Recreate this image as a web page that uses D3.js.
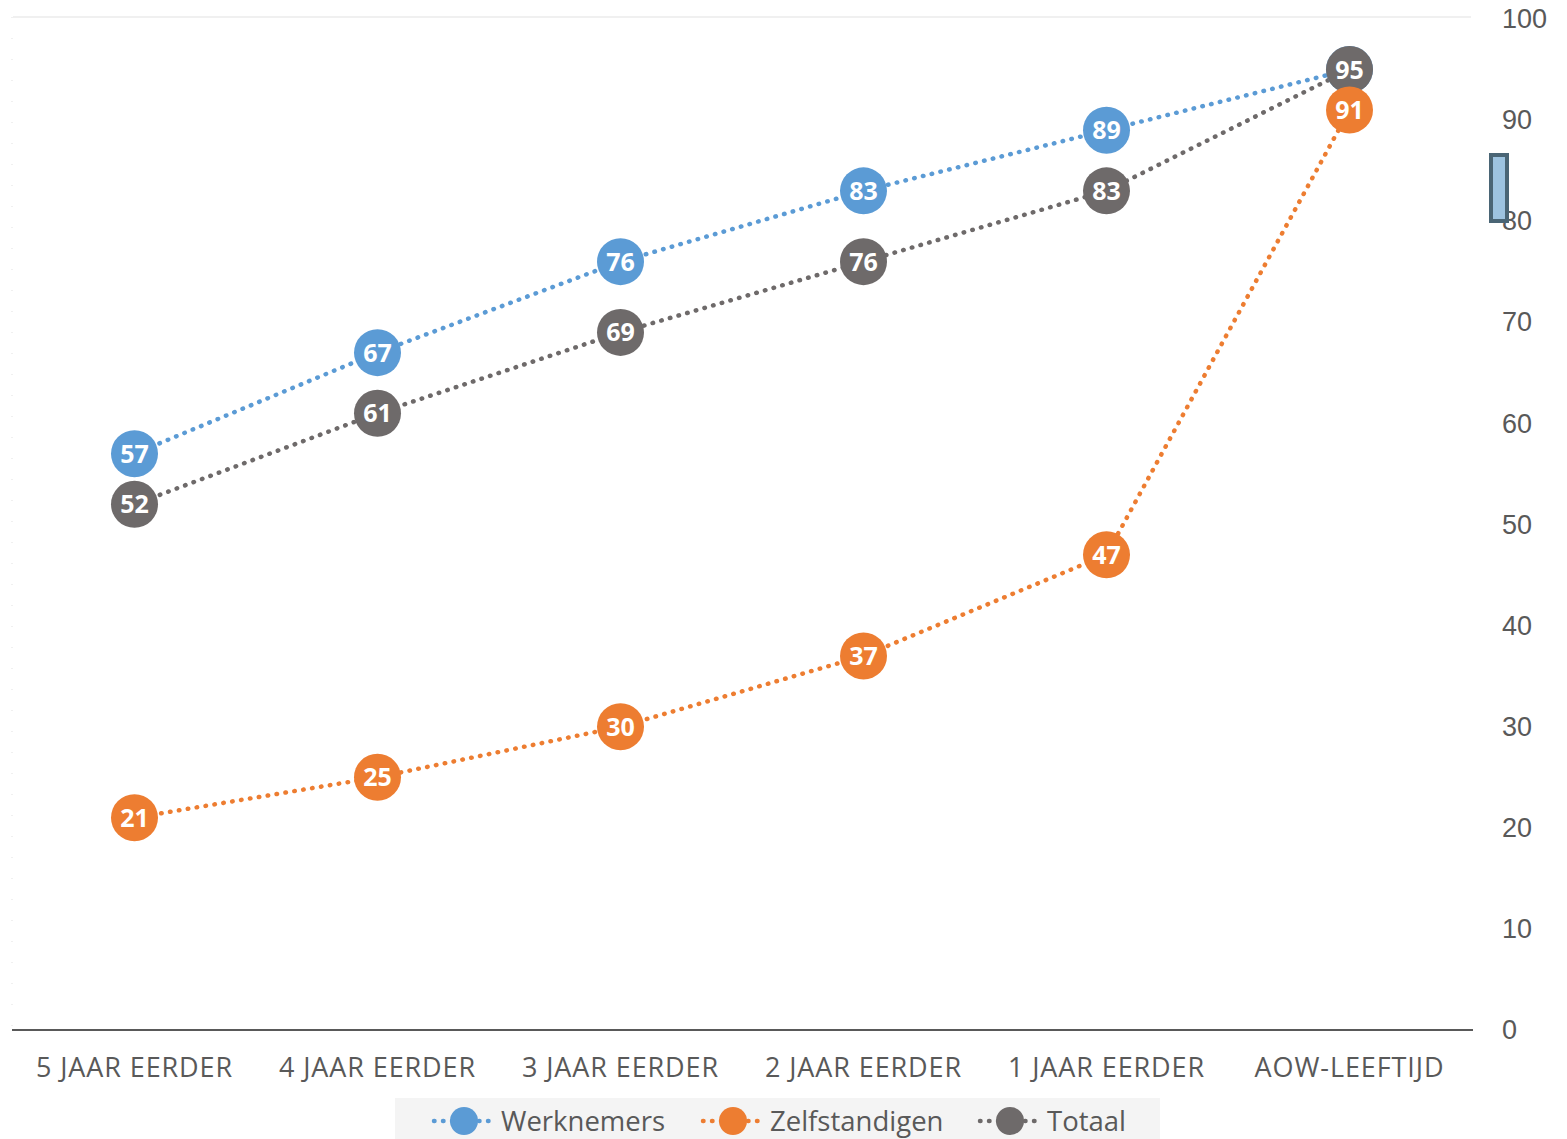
<!DOCTYPE html>
<html><head><meta charset="utf-8">
<script src="https://cdn.jsdelivr.net/npm/d3@7"></script>
<style>
html,body{margin:0;padding:0;background:#fff;}
svg{display:block;font-family:"Open Sans","Noto Sans",sans-serif;}
</style></head>
<body>
<svg id="chart" width="1567" height="1139"></svg>
<script>
const categories = ["5 JAAR EERDER","4 JAAR EERDER","3 JAAR EERDER","2 JAAR EERDER","1 JAAR EERDER","AOW-LEEFTIJD"];
const werknemers = [57,67,76,83,89,95];
const zelfstandigen = [21,25,30,37,47,91];
const totaal = [52,61,69,76,83,95];
const yTicks = [0,10,20,30,40,50,60,70,80,90,100];
const seriesNames = ["Werknemers","Zelfstandigen","Totaal"];
const seriesColors = ["#5B9BD5","#ED7D31","#6E6A6A"];

(function(){
const svg = d3.select("#chart");
const pL = 13, pR = 1471, pT = 19, pB = 1030;
const x = d3.scaleBand().domain(categories).range([pL, pR]);
const y = d3.scaleLinear().domain([0,100]).range([pB, pT]);

// faint top and left border
svg.append("line").attr("x1",pL).attr("x2",pR).attr("y1",17).attr("y2",17)
  .attr("stroke","#f0f0f0").attr("stroke-width",2);
svg.append("line").attr("x1",12).attr("x2",12).attr("y1",17).attr("y2",pB)
  .attr("stroke","#ececec").attr("stroke-width",1.5).attr("stroke-dasharray","1,20");

// x axis
const xAxis = svg.append("g").attr("transform",`translate(0,${pB})`)
  .call(d3.axisBottom(x).tickSize(0).tickPadding(28));
xAxis.select(".domain").attr("stroke","#595959").attr("stroke-width",2).attr("d",`M${pL-1},0H${pR+2}`);
xAxis.selectAll("text").attr("font-size",27).attr("fill","#595959")
  .attr("font-family","'Open Sans',sans-serif").attr("letter-spacing","0.9");

// y axis on right
const yAxis = svg.append("g").attr("transform",`translate(1500,0)`)
  .call(d3.axisRight(y).tickValues(yTicks).tickSize(0).tickPadding(2));
yAxis.select(".domain").remove();
yAxis.selectAll("text").attr("font-size",27).attr("fill","#595959");

// odd marker on axis
svg.append("rect").attr("x",1491).attr("y",155).attr("width",16).attr("height",66)
  .attr("fill","#9DC3E0").attr("stroke","#4A6575").attr("stroke-width",4);

const allSeries = [werknemers, zelfstandigen, totaal];
const line = d3.line().x((d,i)=>x(categories[i])+x.bandwidth()/2).y(d=>y(d));

allSeries.forEach((vals,si)=>{
  svg.append("path").datum(vals).attr("d",line).attr("fill","none")
    .attr("stroke",seriesColors[si]).attr("stroke-width",4.5)
    .attr("stroke-dasharray","0.5,8.5").attr("stroke-linecap","round");
});
[0,2,1].forEach(si=>{
  const g = svg.append("g");
  const vals = allSeries[si];
  g.selectAll("circle").data(vals).join("circle")
    .attr("cx",(d,i)=>x(categories[i])+x.bandwidth()/2).attr("cy",d=>y(d))
    .attr("r",23.5).attr("fill",seriesColors[si]);
  g.selectAll("text").data(vals).join("text")
    .attr("x",(d,i)=>x(categories[i])+x.bandwidth()/2).attr("y",d=>y(d))
    .attr("dy","0.36em").attr("text-anchor","middle")
    .attr("font-size",25).attr("font-weight","bold").attr("fill","#fff")
    .text(d=>d);
});

// legend
const lg = svg.append("g");
lg.append("rect").attr("x",395).attr("y",1098).attr("width",765).attr("height",41).attr("fill","#f4f4f4");
const legendX = [434, 703, 980];
seriesNames.forEach((n,i)=>{
  const lx = legendX[i], ly = 1121;
  lg.append("line").attr("x1",lx).attr("x2",lx+58).attr("y1",ly).attr("y2",ly)
    .attr("stroke",seriesColors[i]).attr("stroke-width",4.5).attr("stroke-dasharray","0.5,8.5").attr("stroke-linecap","round");
  lg.append("circle").attr("cx",lx+30).attr("cy",ly).attr("r",14).attr("fill",seriesColors[i]);
  lg.append("text").attr("x",lx+67).attr("y",ly).attr("dy","0.35em")
    .attr("font-size",27.5).attr("fill","#595959").text(n);
});
})();
</script>
</body></html>
